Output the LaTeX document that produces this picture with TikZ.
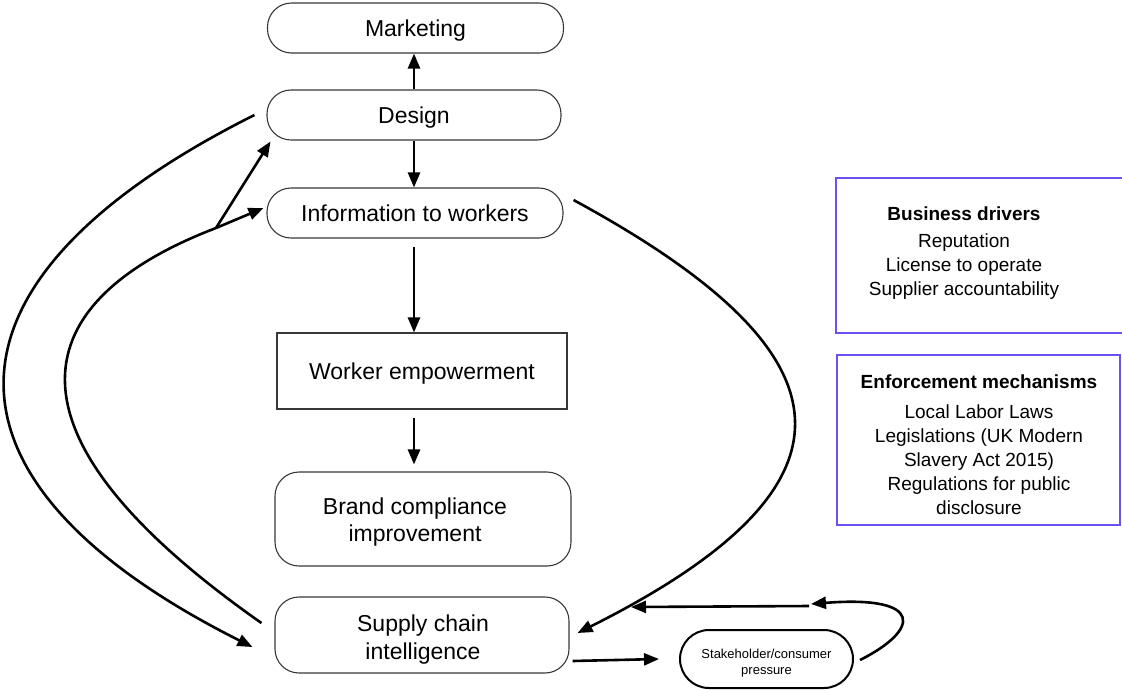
\documentclass[tikz,border=0pt]{standalone}
\usepackage{fontspec}
\setmainfont{Liberation Sans}
\usetikzlibrary{arrows.meta,calc}
\definecolor{edgegray}{RGB}{55,55,55}
\definecolor{violetline}{RGB}{110,80,240}

\begin{document}
\begin{tikzpicture}[x=1pt,y=-1pt,
  base/.style={draw=edgegray,line width=1.1pt,inner sep=0pt,align=center,text depth=0pt,
    font=\fontsize{23}{27.5}\selectfont},
  pill/.style={base,rounded corners=24pt},
  plainbox/.style={base},
  maintxt/.style={align=center,inner sep=0pt,font=\fontsize{23}{27.5}\selectfont},
  conn/.style={line width=2.6pt,-{Triangle[length=15pt,width=12pt]}},
  plainline/.style={line width=2.6pt},
  panel/.style={draw=violetline,line width=1.5pt,inner sep=0pt},
  paneltxt/.style={align=center,inner sep=0pt,font=\fontsize{19}{24}\selectfont},
]
\useasboundingbox (0,0) rectangle (1122,689);

% main column
\node[pill,minimum width=296pt,minimum height=50pt] (marketing) at (415.5,28) {Marketing};
\node[pill,minimum width=294pt,minimum height=50pt] (design) at (414,115) {Design};
\node[pill,minimum width=296pt,minimum height=50pt] (info) at (415,213) {Information to workers};
\node[plainbox,minimum width=290pt,minimum height=76pt] (worker) at (422,371) {Worker empowerment};
\node[pill,minimum width=296pt,minimum height=94pt] (brand) at (423,519) {};
\node[maintxt] (brandtxt) at (415,522) {Brand compliance\\improvement};
\node[pill,minimum width=294pt,minimum height=76pt] (supply) at (422,635) {};
\node[maintxt] (supplytxt) at (423,639.5) {Supply chain\\intelligence};
\node[draw=black,line width=2pt,rounded corners=29pt,minimum width=173pt,minimum height=58pt,
  inner sep=0pt] (stake) at (766.5,659) {};
\node[align=center,inner sep=0pt,font=\fontsize{13}{16}\selectfont] (staketxt) at (766.5,663)
  {Stakeholder/consumer\\pressure};

% side panels
\node[panel,minimum width=287pt,minimum height=155pt] (drivers) at (979.5,255.5) {};
\node[paneltxt] (driverstxt) at (964,253) {\textbf{Business drivers}\\[3pt]Reputation\\License to operate\\Supplier accountability};
\node[panel,minimum width=283pt,minimum height=170pt] (enforce) at (978.5,440) {};
\node[paneltxt] (enforcetxt) at (979,445) {\textbf{Enforcement mechanisms}\\[6pt]Local Labor Laws\\Legislations (UK Modern\\Slavery Act 2015)\\Regulations for public\\disclosure};

% vertical flow
\draw[conn] (design.north) -- (design.north |- marketing.south);
\draw[conn] (design.south) -- (design.south |- info.north);
\draw[conn] ([yshift=-8pt]design.south |- info.south) -- (design.south |- worker.north);
\draw[conn] ([yshift=-8pt]design.south |- worker.south) -- ([yshift=7pt]design.south |- brand.north);

% loop ends
\coordinate (outerstart) at ($(design.west)+(-12,0)$);
\coordinate (outerend) at ($(supply.west)+(-22,12)$);
\coordinate (innerstart) at ($(supply.west)+(-13,-12)$);
\coordinate (fork) at (216,228);
\coordinate (infotip) at ($(info.west)+(-3,-5)$);
\coordinate (designtip) at ($(design.south west)+(4,1)$);
\coordinate (rightstart) at ($(info.east)+(10,-13)$);
\coordinate (rightend) at ($(supply.east)+(8,-2)$);
\coordinate (pressstart) at ($(supply.east)+(3,26)$);
\coordinate (pressend) at ($(stake.west)+(-20,0)$);
\coordinate (loopstart) at ($(stake.east)+(6,1)$);
\coordinate (looptip) at (811,604);
\coordinate (backstart) at (809,606);
\coordinate (backtip) at (631,607);

% feedback curves
\draw[conn] (outerstart) .. controls (-75,280) and (-80,480) .. (outerend);
\draw[plainline] (innerstart) .. controls (-14,430) and (28,300) .. (fork);
\draw[conn] (fork) -- (infotip);
\draw[conn] (fork) -- (designtip);
\draw[conn] (rightstart) .. controls (848,349) and (883,480) .. (rightend);
\draw[conn] (pressstart) -- (pressend);
\draw[conn] (loopstart) .. controls (920,630) and (925,595) .. (looptip);
\draw[conn] (backstart) -- (backtip);
\end{tikzpicture}
\end{document}
